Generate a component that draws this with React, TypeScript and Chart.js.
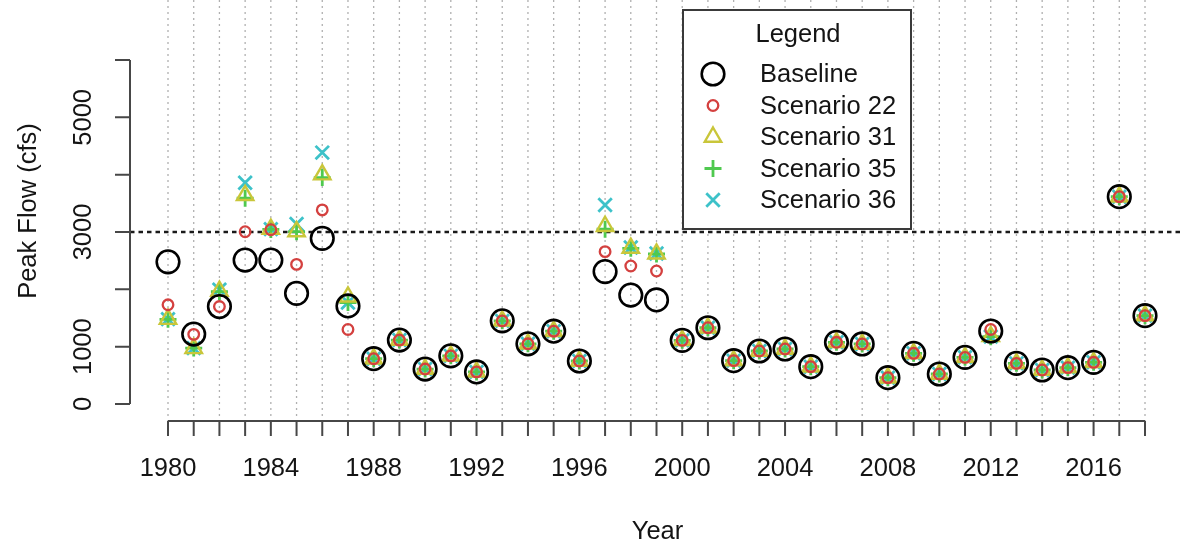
import React, { useEffect, useRef } from "react";
import { Chart, registerables } from "chart.js";

Chart.register(...registerables);

// Annual peak flow (cfs), water years 1980–2018
const years = [
  1980, 1981, 1982, 1983, 1984, 1985, 1986, 1987, 1988, 1989,
  1990, 1991, 1992, 1993, 1994, 1995, 1996, 1997, 1998, 1999,
  2000, 2001, 2002, 2003, 2004, 2005, 2006, 2007, 2008, 2009,
  2010, 2011, 2012, 2013, 2014, 2015, 2016, 2017, 2018,
];

const baseline = [
  2480, 1220, 1700, 2510, 2510, 1930, 2890, 1710, 790, 1115,
  610, 840, 560, 1450, 1050, 1270, 750, 2310, 1900, 1815,
  1110, 1330, 756, 924, 959, 651, 1076, 1047, 459, 884,
  523, 814, 1273, 709, 593, 634, 727, 3616, 1541,
];

const scenario22 = [
  1730, 1215, 1700, 3005, 3040, 2435, 3385, 1300, 790, 1115,
  610, 840, 560, 1450, 1050, 1270, 750, 2657, 2407, 2320,
  1110, 1330, 756, 924, 959, 651, 1076, 1047, 459, 884,
  523, 814, 1300, 709, 593, 634, 727, 3616, 1541,
];

const scenario31 = [
  1480, 970, 1970, 3640, 3050, 3010, 4000, 1870, 790, 1115,
  610, 840, 560, 1450, 1050, 1270, 750, 3100, 2720, 2620,
  1110, 1330, 756, 924, 959, 651, 1076, 1047, 459, 884,
  523, 814, 1180, 709, 593, 634, 727, 3616, 1541,
];

const scenario35 = [
  1477, 975, 1960, 3590, 3045, 3005, 3950, 1770, 790, 1115,
  610, 840, 560, 1450, 1050, 1270, 750, 3050, 2715, 2616,
  1110, 1330, 756, 924, 959, 651, 1076, 1047, 459, 884,
  523, 814, 1175, 709, 593, 634, 727, 3616, 1541,
];

const scenario36 = [
  1480, 975, 1995, 3860, 3050, 3140, 4385, 1770, 790, 1115,
  610, 840, 560, 1450, 1050, 1270, 750, 3470, 2730, 2625,
  1110, 1330, 756, 924, 959, 651, 1076, 1047, 459, 884,
  523, 814, 1175, 709, 593, 634, 727, 3616, 1541,
];

const seriesNames = ["Baseline", "Scenario 22", "Scenario 31", "Scenario 35", "Scenario 36"];

const yTicks = [0, 1000, 2000, 3000, 4000, 5000, 6000];
const yTickLabels = ["0", "1000", "", "3000", "", "5000", ""];
const xLabelYears = [1980, 1984, 1988, 1992, 1996, 2000, 2004, 2008, 2012, 2016];

const threshold = 3000;

const W = 1181;
const H = 546;
const FONT = '25.5px "Liberation Sans", Arial, Helvetica, sans-serif';
const TEXT = "#141414";

type MarkStyle = {
  pointStyle: "circle" | "triangle" | "cross" | "crossRot";
  radius: number;
  width: number;
  color: string;
};

const markStyles: MarkStyle[] = [
  { pointStyle: "circle", radius: 11.3, width: 2.6, color: "#000000" },
  { pointStyle: "circle", radius: 5.3, width: 2.3, color: "#D4403F" },
  { pointStyle: "triangle", radius: 9.5, width: 2.4, color: "#C9C63A" },
  { pointStyle: "cross", radius: 8.5, width: 2.8, color: "#4FC94F" },
  { pointStyle: "crossRot", radius: 9.5, width: 2.8, color: "#3DC2C9" },
];

const seriesValues = [baseline, scenario22, scenario31, scenario35, scenario36];

function drawSymbol(ctx: CanvasRenderingContext2D, s: MarkStyle, cx: number, cy: number) {
  ctx.save();
  ctx.strokeStyle = s.color;
  ctx.lineWidth = s.width;
  ctx.beginPath();
  const r = s.radius;
  if (s.pointStyle === "circle") {
    ctx.arc(cx, cy, r, 0, Math.PI * 2);
  } else if (s.pointStyle === "triangle") {
    for (let i = 0; i < 3; i++) {
      const a = (i * 2 * Math.PI) / 3;
      const px = cx + Math.sin(a) * r;
      const py = cy - Math.cos(a) * r;
      if (i === 0) ctx.moveTo(px, py);
      else ctx.lineTo(px, py);
    }
    ctx.closePath();
  } else if (s.pointStyle === "cross") {
    ctx.moveTo(cx - r, cy);
    ctx.lineTo(cx + r, cy);
    ctx.moveTo(cx, cy - r);
    ctx.lineTo(cx, cy + r);
  } else {
    const d = Math.cos(Math.PI / 4) * r;
    ctx.moveTo(cx - d, cy - d);
    ctx.lineTo(cx + d, cy + d);
    ctx.moveTo(cx - d, cy + d);
    ctx.lineTo(cx + d, cy - d);
  }
  ctx.stroke();
  ctx.restore();
}

// Axes, year guides and the 3000 cfs reference line, drawn under the points
const framePlugin = {
  id: "peakFrame",
  beforeDatasetsDraw(chart: any) {
    const { ctx, chartArea: a, scales } = chart;
    const xs = scales.x;
    const ys = scales.y;
    ctx.save();

    // dotted vertical guide at every year
    ctx.strokeStyle = "#b0b0b0";
    ctx.lineWidth = 1.3;
    ctx.setLineDash([2, 4]);
    years.forEach((yr) => {
      const px = xs.getPixelForValue(yr);
      ctx.beginPath();
      ctx.moveTo(px, a.top);
      ctx.lineTo(px, a.bottom);
      ctx.stroke();
    });

    // reference flow line
    const ty = ys.getPixelForValue(threshold);
    ctx.strokeStyle = "#1a1a1a";
    ctx.lineWidth = 2.6;
    ctx.setLineDash([4.5, 4]);
    ctx.beginPath();
    ctx.moveTo(a.left, ty);
    ctx.lineTo(a.right, ty);
    ctx.stroke();
    ctx.setLineDash([]);

    // x axis
    ctx.strokeStyle = "#474747";
    ctx.lineWidth = 2;
    const axY = a.bottom;
    const xStart = xs.getPixelForValue(years[0]);
    const xEnd = xs.getPixelForValue(years[years.length - 1]);
    ctx.beginPath();
    ctx.moveTo(xStart, axY);
    ctx.lineTo(xEnd, axY);
    years.forEach((yr) => {
      const px = xs.getPixelForValue(yr);
      ctx.moveTo(px, axY);
      ctx.lineTo(px, axY + 15);
    });
    ctx.stroke();

    // y axis
    const axX = a.left;
    ctx.beginPath();
    ctx.moveTo(axX, ys.getPixelForValue(yTicks[0]));
    ctx.lineTo(axX, ys.getPixelForValue(yTicks[yTicks.length - 1]));
    yTicks.forEach((v) => {
      const py = ys.getPixelForValue(v);
      ctx.moveTo(axX, py);
      ctx.lineTo(axX - 15, py);
    });
    ctx.stroke();

    // tick labels
    ctx.fillStyle = TEXT;
    ctx.font = FONT;
    ctx.textAlign = "center";
    ctx.textBaseline = "alphabetic";
    xLabelYears.forEach((yr) => {
      ctx.fillText(String(yr), xs.getPixelForValue(yr), 476);
    });
    yTicks.forEach((v, i) => {
      if (!yTickLabels[i]) return;
      ctx.save();
      ctx.translate(91, ys.getPixelForValue(v));
      ctx.rotate(-Math.PI / 2);
      ctx.fillText(yTickLabels[i], 0, 0);
      ctx.restore();
    });

    // axis titles
    ctx.fillText("Year", (a.left + a.right) / 2 + 2, 539);
    ctx.save();
    ctx.translate(36, 211);
    ctx.rotate(-Math.PI / 2);
    ctx.fillText("Peak Flow (cfs)", 0, 0);
    ctx.restore();

    ctx.restore();
  },
  afterDatasetsDraw(chart: any) {
    const { ctx } = chart;
    ctx.save();
    const bx = 683;
    const by = 10;
    const bw = 228;
    const bh = 219;
    ctx.fillStyle = "#ffffff";
    ctx.fillRect(bx, by, bw, bh);
    ctx.strokeStyle = "#3a3a3a";
    ctx.lineWidth = 2;
    ctx.strokeRect(bx, by, bw, bh);

    ctx.fillStyle = TEXT;
    ctx.font = FONT;
    ctx.textAlign = "center";
    ctx.textBaseline = "middle";
    ctx.fillText("Legend", 798, 35);
    ctx.textAlign = "left";
    seriesNames.forEach((name, i) => {
      const rowY = 74 + i * 31.5;
      drawSymbol(ctx, markStyles[i], 713, rowY);
      ctx.fillText(name, 760, rowY + 1);
    });
    ctx.restore();
  },
};

export default function App() {
  const canvasRef = useRef<HTMLCanvasElement | null>(null);

  useEffect(() => {
    const canvas = canvasRef.current;
    if (!canvas) return;

    const datasets = seriesValues.map((vals, i) => {
      const s = markStyles[i];
      return {
        label: seriesNames[i],
        data: years.map((yr, j) => ({ x: yr, y: vals[j] })),
        pointStyle: s.pointStyle,
        pointRadius: s.radius,
        pointHoverRadius: s.radius,
        pointBorderWidth: s.width,
        pointBorderColor: s.color,
        pointBackgroundColor: "rgba(0,0,0,0)",
        showLine: false,
        clip: false as const,
      };
    });

    // pixel layout: year 1980 at x=168, 25.71 px per year; 0 cfs at y=404, 57.33 px per 1000 cfs
    const chart = new Chart(canvas, {
      type: "scatter",
      data: { datasets },
      options: {
        animation: false,
        responsive: false,
        devicePixelRatio: 1,
        layout: { autoPadding: false, padding: { left: 130, right: 0, top: 0, bottom: H - 421 } },
        plugins: {
          legend: { display: false },
          tooltip: { enabled: false },
        },
        events: [],
        scales: {
          x: { type: "linear", display: false, min: 1978.522, max: 2019.4 },
          y: { type: "linear", display: false, min: -296.5, max: 7046.5 },
        },
      },
      plugins: [framePlugin],
    });

    return () => chart.destroy();
  }, []);

  return (
    <div style={{ position: "fixed", left: 0, top: 0, width: W, height: H, background: "#ffffff" }}>
      <canvas ref={canvasRef} width={W} height={H} style={{ display: "block", width: W, height: H }} />
    </div>
  );
}
